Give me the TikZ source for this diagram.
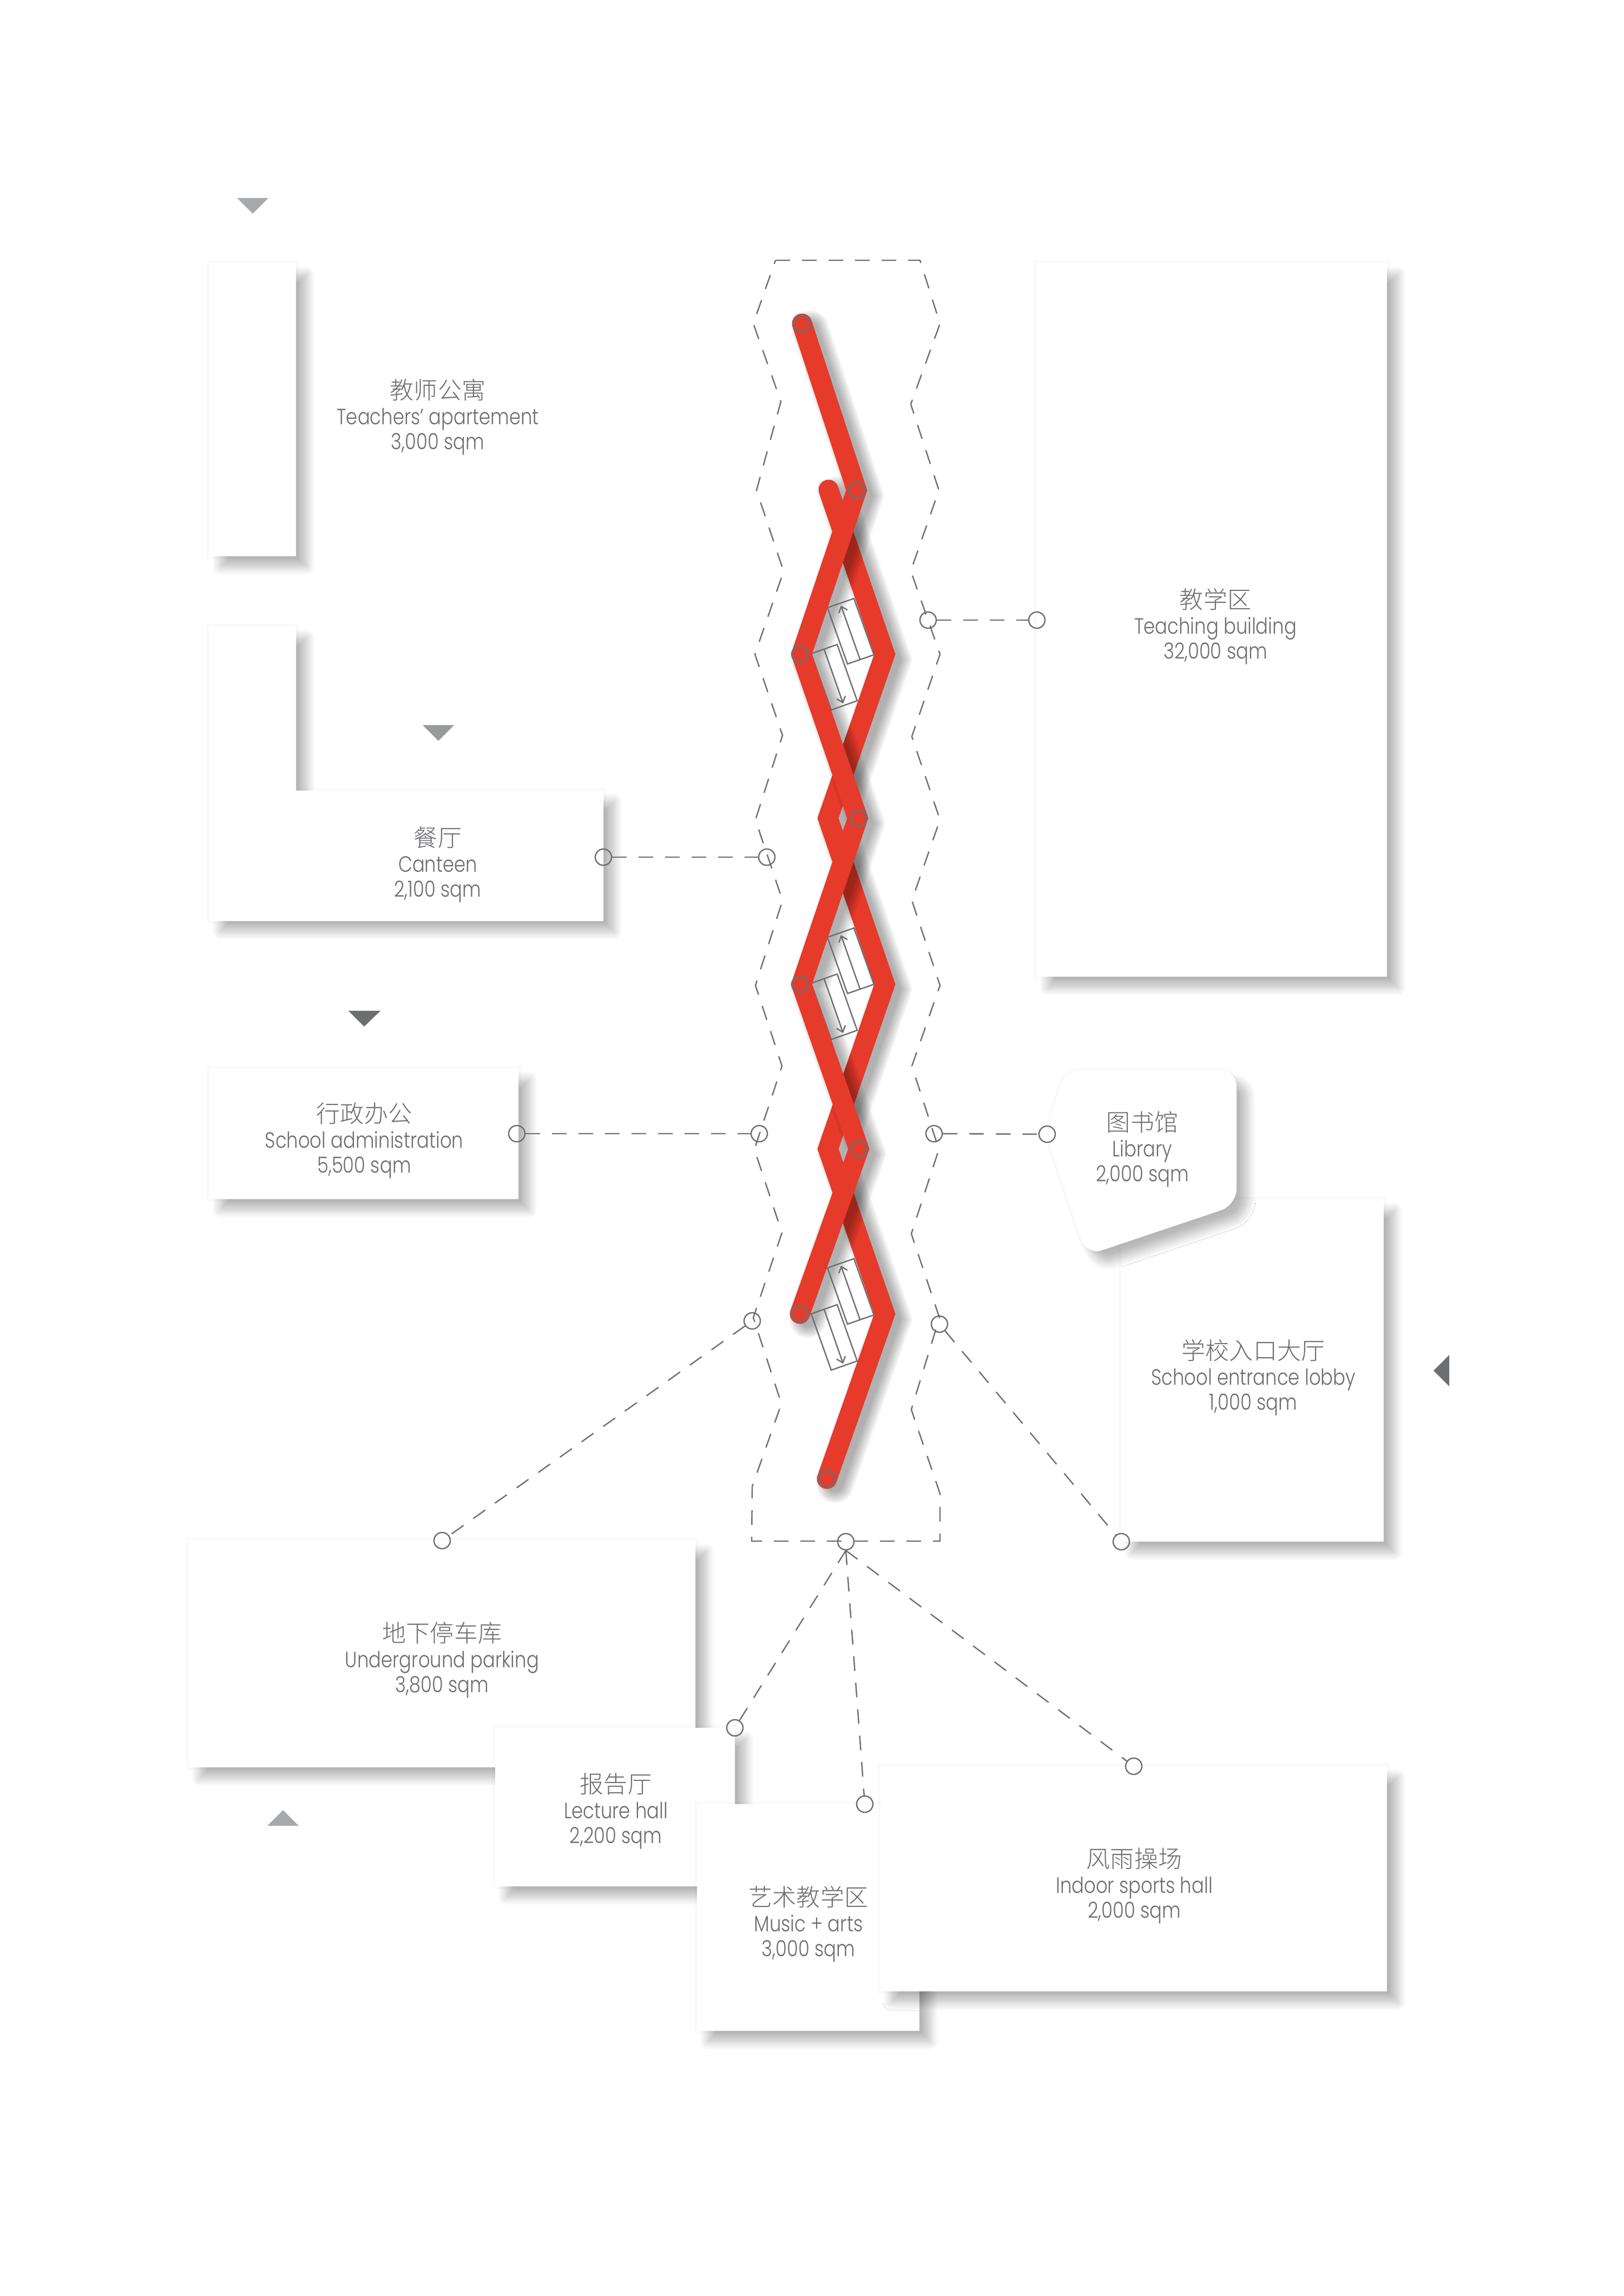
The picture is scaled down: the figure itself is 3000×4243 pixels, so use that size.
\documentclass[tikz,border=0pt]{standalone}
\usepackage{fontspec}
\setmainfont{Poppins}[UprightFont=* Light,FakeStretch=0.83]
\newfontfamily\cjk{Noto Sans CJK SC}[UprightFont=* Light,Scale=1.08]
\usetikzlibrary{arrows.meta,shadows.blur}
\definecolor{inkgrey}{HTML}{6D6E71}
\definecolor{midgrey}{HTML}{A7A9AC}
\definecolor{ribbon}{HTML}{E63A2B}
\newcommand{\strandA}{(1482,598) -- (1583,906) -- (1481,1209) -- (1585,1512) -- (1481,1819) -- (1587,2123) -- (1478,2428)}
\newcommand{\strandB}{(1531,905) -- (1635,1209) -- (1530,1512) -- (1635,1819) -- (1530,2123) -- (1635,2428) -- (1528,2733)}
\tikzset{%
  room/.style = {fill=white,
    preaction={draw=black, draw opacity=.018, line width=.1cm},
    blur shadow={shadow xshift=.2cm, shadow yshift=-.2cm, shadow opacity=27,
      shadow blur radius=.15cm, shadow blur steps=14}},
  label/.style = {align=center, text=inkgrey, inner sep=0pt,
    font=\fontsize{11.6}{13.2}\selectfont},
  dot/.style = {circle, draw=inkgrey, line width=.024cm, minimum size=.3cm, inner sep=0pt},
  dashlink/.style = {draw=inkgrey, line width=.024cm, dash pattern=on .27cm off .22cm},
  strandline/.style = {draw=ribbon, line width=.37cm, line cap=round, line join=miter},
  strandshade/.style = {draw=black, opacity=.04, line cap=round, line join=miter,
    xshift=.15cm, yshift=-.1cm},
  endring/.style = {circle, draw=inkgrey!85!ribbon, line width=.035cm, minimum size=.29cm, inner sep=0pt},
  stairline/.style = {draw=inkgrey, line width=.024cm}
}
\begin{document}
\begin{tikzpicture}[x=.01cm,y=-.01cm]
	\useasboundingbox (0,0) rectangle (3000,4243);
	\path[room] (387,487) rectangle (547,1028);
	\path[room] (1916,487) rectangle (2563,1805);
	\path[room] (387,1158) -- (547,1158) -- (547,1461) -- (1115,1461) -- (1115,1702) -- (387,1702) -- cycle;
	\path[room] (387,1975) rectangle (958,2216);
	\path[room] (2072,2217) rectangle (2557,2849);
	\path[room,rounded corners=.3cm] (1968,1978) -- (2285,1978) -- (2285,2227) -- (2008,2320) -- (1933,2097) -- cycle;
	\path[room] (349,2847) rectangle (1285,3266);
	\path[room] (915,3193) rectangle (1358,3486);
	\path[room] (1288,3334) rectangle (1699,3753);
	\path[room] (1627,3264) rectangle (2563,3680);
	\draw[dashlink] (1433,481) -- (1700,481) -- (1737,598) -- (1683,747) -- (1735,906) -- (1683,1055)
	  -- (1737,1209) -- (1685,1361) -- (1737,1515) -- (1685,1664) -- (1737,1821) -- (1685,1970)
	  -- (1735,2124) -- (1684,2280) -- (1736,2435) -- (1684,2605) -- (1737,2760) -- (1737,2848)
	  -- (1389,2848) -- (1390,2747) -- (1444,2594) -- (1392,2435) -- (1445,2278) -- (1394,2124)
	  -- (1445,1970) -- (1396,1821) -- (1446,1664) -- (1396,1515) -- (1446,1359) -- (1395,1209)
	  -- (1448,1056) -- (1398,906) -- (1443,742) -- (1392,598) -- cycle;
	\node[dot] (teachin) at (1715,1146) {};
	\node[dot] (teachdot) at (1916,1146) {};
	\node[dot] (cantdot) at (1115,1584) {};
	\node[dot] (cantin) at (1417,1584) {};
	\node[dot] (admindot) at (955,2095) {};
	\node[dot] (adminin) at (1403,2095) {};
	\node[dot] (libin) at (1726,2095) {};
	\node[dot] (libdot) at (1935,2096) {};
	\node[dot] (parkin) at (1390,2441) {};
	\node[dot] (parkdot) at (817,2847) {};
	\node[dot] (lobbyin) at (1736,2447) {};
	\node[dot] (lobbydot) at (2072,2849) {};
	\node[dot] (basedot) at (1563,2849) {};
	\node[dot] (lectdot) at (1358,3193) {};
	\node[dot] (musicdot) at (1598,3334) {};
	\node[dot] (sportdot) at (2095,3264) {};
	\draw[dashlink] (teachin) -- (teachdot);
	\draw[dashlink] (cantdot) -- (cantin);
	\draw[dashlink] (admindot) -- (adminin);
	\draw[dashlink] (libin) -- (libdot);
	\draw[dashlink] (parkin) -- (parkdot);
	\draw[dashlink] (lobbyin) -- (lobbydot);
	\draw[dashlink] (basedot.south) -- (lectdot);
	\draw[dashlink] (basedot.south) -- (musicdot);
	\draw[dashlink] (basedot.south) -- (sportdot);
	\foreach \w in {29,34,...,69} {
	  \draw[strandshade,line width=\w*.01cm] \strandB;
	}
	\draw[strandline] \strandB;
	\foreach \w in {29,34,...,69} {
	  \draw[strandshade,line width=\w*.01cm] \strandA;
	}
	\foreach \dy in {0,609,1220} {
	  \draw[stairline] (1529,1123+\dy) -- (1578,1106+\dy) -- (1615,1210+\dy) -- (1566,1227+\dy) -- cycle;
	  \draw[stairline,-{Straight Barb[length=.1cm,width=.17cm]}] (1589,1218+\dy) -- (1554,1119+\dy);
	  \draw[stairline] (1499,1208+\dy) -- (1547,1191+\dy) -- (1584,1295+\dy) -- (1536,1312+\dy) -- cycle;
	  \draw[stairline,-{Straight Barb[length=.1cm,width=.17cm]}] (1523,1200+\dy) -- (1558,1300+\dy);
	}
	\draw[strandline] \strandA;
	\foreach \n/\x/\y in {a/1482/598,b/1583/906,c/1478/1209,d/1587/1512,e/1478/1819,f/1587/2123,g/1478/2428,h/1528/2733} {
	  \node[endring] (ring\n) at (\x,\y) {};
	}
	\node[label] (teachers) at (809,771) {{\cjk 教师公寓}\\Teachers’ apartement\\3,000 sqm};
	\node[label] (canteen) at (809,1598) {{\cjk 餐厅}\\Canteen\\2,100 sqm};
	\node[label] (teaching) at (2246,1158) {{\cjk 教学区}\\Teaching building\\32,000 sqm};
	\node[label] (admin) at (673,2108) {{\cjk 行政办公}\\School administration\\5,500 sqm};
	\node[label] (library) at (2111,2124) {{\cjk 图书馆}\\Library\\2,000 sqm};
	\node[label] (lobby) at (2316,2546) {{\cjk 学校入口大厅}\\School entrance lobby\\1,000 sqm};
	\node[label] (parking) at (817,3068) {{\cjk 地下停车库}\\Underground parking\\3,800 sqm};
	\node[label] (lecture) at (1138,3347) {{\cjk 报告厅}\\Lecture hall\\2,200 sqm};
	\node[label] (music) at (1494,3556) {{\cjk 艺术教学区}\\Music + arts\\3,000 sqm};
	\node[label] (sports) at (2096,3485) {{\cjk 风雨操场}\\Indoor sports hall\\2,000 sqm};
	\fill[midgrey] (438,366) -- (496,366) -- (467,395) -- cycle;
	\fill[inkgrey!70] (781,1340) -- (839,1340) -- (810,1369) -- cycle;
	\fill[inkgrey] (644,1868) -- (703,1868) -- (673,1897) -- cycle;
	\fill[midgrey] (494,3374) -- (552,3374) -- (523,3345) -- cycle;
	\fill[inkgrey] (2678,2504) -- (2678,2562) -- (2649,2533) -- cycle;
\end{tikzpicture}
\end{document}
